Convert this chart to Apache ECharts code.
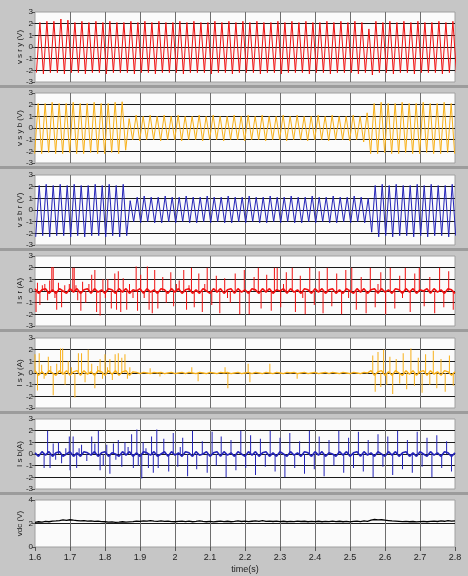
<!DOCTYPE html>
<html>
<head>
<meta charset="utf-8">
<script src="https://cdn.jsdelivr.net/npm/echarts@6/dist/echarts.min.js"></script>
<style>
html, body { margin: 0; padding: 0; background: #c6c6c6; }
#chart { width: 468px; height: 576px; }
</style>
</head>
<body>
<div id="chart"></div>
<script>
// axis names of the seven stacked panels
const panelNames = ['v s r y (V)', 'v s y b (V)', 'v s b r (V)', 'I s r (A)', 'I s y (A)', 'I s b(A)', 'vdc (V)'];
const panelColors = ['#f01010', '#f8b018', '#2424b8', '#f01010', '#f8b018', '#2424b8', '#000000'];

// line voltages: peak / trough of each half cycle (50 Hz -> one extreme every 0.01 s)
const halfStep = 0.01;
const vsryFirstPeak = 1.614;
const vsryPeaks = [
  2.1, 2.2, 2.2, 2.4, 2.3, 2.1, 2.2, 2.1, 2.2, 2.1,
  2.2, 2.1, 2.1, 2.2, 2.1, 2.2, 2.1, 2.2, 2.1, 2.1,
  2.2, 2.1, 2.2, 2.1, 2.1, 2.2, 2.1, 2.2, 2.1, 2.2,
  2.1, 2.2, 2.1, 2.1, 2.2, 2.1, 2.2, 2.1, 2.2, 2.1,
  2.1, 2.2, 2.1, 2.2, 2.1, 2.2, 2.1, 1.55, 2.2, 2.1,
  2.2, 2.1, 2.2, 2.1, 2.2, 2.1, 2.1, 2.2, 2.1, 2.2
];
const vsryTroughs = [
  -2.2, -2.3, -2.2, -2.2, -2.3, -2.2, -2.2, -2.3, -2.2, -2.2,
  -2.3, -2.2, -2.2, -2.2, -2.3, -2.2, -2.2, -2.3, -2.2, -2.2,
  -2.2, -2.3, -2.2, -2.2, -2.2, -2.3, -2.2, -2.2, -2.3, -2.2,
  -2.2, -2.2, -2.3, -2.2, -2.2, -2.3, -2.2, -2.2, -2.2, -2.3,
  -2.2, -2.2, -2.3, -2.2, -2.2, -2.2, -2.3, -2.2, -2.4, -2.2,
  -2.2, -2.3, -2.2, -2.2, -2.3, -2.2, -2.2, -2.2, -2.3, -2.2,
  -2.2
];

const vsybFirstPeak = 1.609;
const vsybPeaks = [
  2.1, 2.1, 2.2, 2.1, 2.1, 2.2, 2.1, 2.1, 2.2, 2.1,
  2.1, 2.2, 2.25, 0.8, 1.1, 1.0, 1.1, 1.0, 1.1, 1.0,
  1.1, 1.0, 1.0, 1.1, 1.0, 1.1, 1.0, 1.0, 1.1, 1.0,
  1.1, 1.0, 1.1, 1.0, 1.0, 1.1, 1.0, 1.1, 1.0, 1.0,
  1.1, 1.0, 1.1, 1.0, 1.0, 1.1, 1.0, 1.3, 2.1, 2.2,
  2.1, 2.1, 2.2, 2.1, 2.1, 2.2, 2.1, 2.1, 2.2, 2.1
];
const vsybTroughs = [
  -2.2, -2.2, -2.1, -2.2, -2.2, -2.1, -2.2, -2.2, -2.1, -2.2,
  -2.2, -2.1, -2.2, -1.9, -1.0, -1.1, -1.0, -1.0, -1.1, -1.0,
  -1.0, -1.1, -1.0, -1.0, -1.1, -1.0, -1.0, -1.1, -1.0, -1.0,
  -1.1, -1.0, -1.0, -1.1, -1.0, -1.0, -1.1, -1.0, -1.0, -1.1,
  -1.0, -1.0, -1.1, -1.0, -1.0, -1.1, -1.0, -1.2, -2.2, -2.2,
  -2.1, -2.2, -2.2, -2.1, -2.2, -2.2, -2.1, -2.2, -2.2, -2.1,
  -2.2
];

const vsbrFirstPeak = 1.612;
const vsbrPeaks = [
  2.1, 2.2, 2.1, 2.2, 2.1, 2.2, 2.1, 2.1, 2.2, 2.1,
  2.2, 2.1, 2.2, 0.8, 1.1, 1.2, 1.1, 1.1, 1.2, 1.1,
  1.1, 1.2, 1.1, 1.1, 1.2, 1.1, 1.1, 1.2, 1.1, 1.1,
  1.2, 1.1, 1.1, 1.2, 1.1, 1.1, 1.2, 1.1, 1.1, 1.2,
  1.1, 1.1, 1.2, 1.1, 1.1, 1.2, 1.1, 1.0, 2.1, 2.2,
  2.1, 2.2, 2.1, 2.1, 2.2, 2.1, 2.2, 2.1, 2.1, 2.2
];
const vsbrTroughs = [
  -2.3, -2.2, -2.3, -2.2, -2.2, -2.3, -2.2, -2.3, -2.2, -2.2,
  -2.3, -2.2, -2.3, -2.2, -1.0, -1.1, -1.0, -1.1, -1.1, -1.0,
  -1.1, -1.0, -1.1, -1.1, -1.0, -1.1, -1.0, -1.1, -1.1, -1.0,
  -1.1, -1.0, -1.1, -1.1, -1.0, -1.1, -1.0, -1.1, -1.1, -1.0,
  -1.1, -1.0, -1.1, -1.1, -1.0, -1.1, -1.0, -1.1, -1.9, -2.3,
  -2.2, -2.3, -2.2, -2.2, -2.3, -2.2, -2.3, -2.2, -2.2, -2.3,
  -2.2
];

// phase currents: baseline ripple every 0.01 s from 1.6, plus spikes [t, A]
const baseStart = 1.6;
const baseStep = 0.01;
const isrBase = [
  0.2, -0.2, 0.1, 0.2, -0.2, 0.1, -0.2, 0.2, 0.0, -0.2,
  0.2, -0.1, 0.2, -0.2, 0.1, 0.2, -0.2, 0.2, -0.1, 0.1,
  -0.2, 0.2, 0.1, -0.2, 0.2, -0.1, 0.2, -0.2, 0.1, 0.0,
  0.2, -0.2, 0.2, -0.1, 0.1, -0.2, 0.2, 0.1, -0.2, 0.2,
  -0.1, 0.2, -0.2, 0.1, 0.2, -0.2, 0.1, -0.2, 0.2, 0.0,
  -0.2, 0.2, -0.1, 0.2, -0.2, 0.1, 0.2, -0.2, 0.2, -0.1,
  0.1, -0.2, 0.2, 0.1, -0.2, 0.2, -0.1, 0.2, -0.2, 0.1,
  0.0, 0.2, -0.2, 0.2, -0.1, 0.1, -0.2, 0.2, 0.1, -0.2,
  0.2, -0.1, 0.2, -0.2, 0.1, 0.2, -0.2, 0.1, -0.2, 0.2,
  0.0, -0.2, 0.2, -0.1, 0.2, -0.2, 0.1, 0.2, -0.2, 0.2,
  -0.1, 0.1, -0.2, 0.2, 0.1, -0.2, 0.2, -0.1, 0.2, -0.2,
  0.1, 0.0, 0.2, -0.2, 0.2, -0.1, 0.1, -0.2, 0.2, 0.1,
  -0.2
];
const isrSpikes = [
  [1.603, -1.8], [1.607, 0.7], [1.614, -1.2], [1.621, 0.5], [1.628, 0.6], [1.636, -0.8], [1.642, 0.9],
  [1.648, 2.05], [1.652, 2.05], [1.657, -0.6], [1.662, -1.6], [1.667, 0.7], [1.676, -1.4], [1.685, 0.5],
  [1.698, 0.6], [1.708, 2.0], [1.712, 2.0], [1.717, 0.5], [1.722, -0.8], [1.731, -1.7], [1.736, 0.8],
  [1.745, -1.0], [1.754, 0.6], [1.762, 1.4], [1.771, 1.8], [1.776, -1.8], [1.786, -2.1], [1.794, 1.0],
  [1.801, -0.6], [1.808, 1.0], [1.818, -1.5], [1.828, 1.5], [1.833, -1.6], [1.838, 1.7], [1.845, -1.8],
  [1.852, 1.1], [1.862, -1.6], [1.870, 0.6], [1.880, -0.6], [1.889, 2.1], [1.893, -1.7], [1.902, 1.4],
  [1.912, -0.6], [1.921, 2.1], [1.926, -1.6], [1.935, -1.9], [1.942, 1.8], [1.951, -1.5], [1.965, 1.2],
  [1.975, -1.0], [1.988, 1.6], [1.996, -1.3], [2.004, 0.6], [2.012, 0.9], [2.025, 1.8], [2.033, -1.6],
  [2.040, 0.5], [2.047, 2.0], [2.055, -1.4], [2.068, 1.5], [2.078, -1.8], [2.085, 0.6], [2.092, 2.0],
  [2.105, -1.2], [2.118, 1.3], [2.128, -1.9], [2.142, 1.1], [2.150, -0.6], [2.158, -1.0], [2.172, 1.5],
  [2.185, -2.0], [2.198, 1.8], [2.212, -2.0], [2.226, 1.2], [2.238, 2.0], [2.246, -1.5], [2.262, 1.4],
  [2.275, -1.7], [2.284, 2.0], [2.292, 2.0], [2.302, -1.4], [2.310, 0.6], [2.318, 1.6], [2.335, 2.0],
  [2.344, -1.8], [2.358, 1.3], [2.365, -0.6], [2.372, -2.0], [2.385, 2.0], [2.398, -1.2], [2.412, 1.7],
  [2.423, -1.9], [2.435, 2.0], [2.448, -1.3], [2.462, 1.5], [2.476, -2.0], [2.488, 1.8], [2.496, -0.6],
  [2.505, 2.0], [2.518, -1.6], [2.532, 1.2], [2.546, -1.9], [2.558, 2.0], [2.572, -1.4], [2.580, 0.6],
  [2.588, 1.6], [2.602, -2.0], [2.615, 2.0], [2.628, -1.5], [2.642, 1.3], [2.650, -0.6], [2.658, 2.0],
  [2.672, -1.8], [2.685, 1.5], [2.698, 2.0], [2.712, -1.3], [2.728, 1.2], [2.742, -1.9], [2.756, 2.0],
  [2.768, -1.4], [2.782, 1.7], [2.795, -1.6]
];

const isyBase = [
  0.2, -0.2, 0.1, -0.2, 0.2, 0.0, -0.2, 0.2, -0.1, 0.2,
  -0.2, 0.1, 0.2, -0.2, 0.2, -0.1, 0.1, -0.2, 0.2, 0.1,
  -0.2, 0.2, -0.1, 0.2, -0.2, 0.1, 0.2, -0.2, 0.1, 0.05,
  -0.05, 0.05, 0.0, -0.05, 0.05, 0.0, 0.05, -0.05, 0.0, 0.05,
  -0.05, 0.0, 0.05, -0.05, 0.05, 0.0, -0.05, 0.05, 0.0, -0.05,
  0.05, 0.0, -0.05, 0.05, 0.0, 0.05, -0.05, 0.0, 0.05, -0.05,
  0.0, 0.05, -0.05, 0.05, 0.0, -0.05, 0.05, 0.0, -0.05, 0.05,
  0.0, -0.05, 0.05, 0.0, 0.05, -0.05, 0.0, 0.05, -0.05, 0.0,
  0.05, -0.05, 0.0, 0.05, -0.05, 0.05, 0.0, -0.05, 0.05, 0.0,
  -0.05, 0.05, 0.0, -0.05, 0.05, 0.0, 0.2, -0.2, 0.1, 0.2,
  -0.2, 0.1, -0.2, 0.2, 0.0, -0.2, 0.2, -0.1, 0.2, -0.2,
  0.1, 0.2, -0.2, 0.2, -0.1, 0.1, -0.2, 0.2, 0.1, -0.2,
  0.1
];
const isySpikes = [
  [1.600, 1.6], [1.607, -1.5], [1.612, 1.7], [1.619, 0.7], [1.626, -0.5], [1.638, 1.4], [1.645, 0.6],
  [1.652, -1.9], [1.662, 0.8], [1.673, 2.1], [1.679, 2.1], [1.686, -1.0], [1.695, 1.0], [1.704, 0.5],
  [1.714, -2.1], [1.724, 1.7], [1.733, 1.7], [1.743, -0.8], [1.752, 2.0], [1.762, 0.8], [1.771, -1.3],
  [1.779, 0.6], [1.786, 1.2], [1.793, -0.5], [1.800, 1.6], [1.807, 0.5], [1.814, 1.2], [1.821, -0.6],
  [1.829, 1.6], [1.838, 1.7], [1.848, 1.3], [1.857, 1.6], [1.864, -0.5], [1.871, 0.5], [1.929, 0.4],
  [1.957, -0.3], [2.048, 0.5], [2.066, -0.7], [2.143, 0.5], [2.151, -1.3], [2.209, 0.8], [2.214, -0.8],
  [2.271, 0.8], [2.349, -0.5], [2.565, 1.5], [2.572, -1.6], [2.580, 1.8], [2.588, -1.2], [2.596, 2.0],
  [2.605, -1.0], [2.614, 1.4], [2.622, -1.8], [2.632, 1.2], [2.642, -0.9], [2.652, 1.7], [2.662, -1.4],
  [2.674, 2.1], [2.684, -1.1], [2.695, 1.3], [2.706, -1.7], [2.716, 1.6], [2.728, -1.0], [2.738, 1.9],
  [2.748, -1.3], [2.760, 1.2], [2.772, -1.6], [2.784, 1.5], [2.795, -1.1]
];

const isbBase = [
  0.1, -0.2, 0.2, -0.1, 0.2, -0.2, 0.1, 0.2, -0.2, 0.0,
  0.2, -0.2, 0.1, -0.2, 0.2, 0.1, -0.1, 0.2, -0.2, 0.1,
  0.2, -0.2, 0.1, 0.0, -0.2, 0.2, -0.1, 0.2, -0.2, 0.1,
  -0.2, 0.2, 0.1, -0.1, 0.2, -0.2, 0.0, 0.2, -0.2, 0.2,
  -0.1, 0.1, -0.2, 0.2, 0.1, -0.2, 0.2, -0.1, 0.0, 0.2,
  -0.2, 0.1, 0.2, -0.2, 0.2, -0.1, 0.1, -0.2, 0.2, 0.0,
  -0.2, 0.2, -0.1, 0.2, -0.2, 0.1, 0.2, -0.2, 0.1, -0.2,
  0.2, 0.0, -0.2, 0.2, -0.1, 0.1, -0.2, 0.2, 0.1, -0.2,
  0.2, -0.1, 0.2, -0.2, 0.1, 0.0, -0.2, 0.2, -0.1, 0.2,
  -0.2, 0.1, 0.2, -0.2, 0.2, -0.1, 0.1, -0.2, 0.2, 0.0,
  -0.2, 0.2, -0.1, 0.2, -0.2, 0.1, 0.2, -0.2, 0.1, -0.2,
  0.2, 0.0, -0.2, 0.2, -0.1, 0.1, -0.2, 0.2, 0.1, -0.2,
  0.1
];
const isbSpikes = [
  [1.626, -1.2], [1.636, 2.0], [1.643, -1.2], [1.652, 0.9], [1.659, -0.5], [1.667, 1.0], [1.676, -0.8],
  [1.688, 0.5], [1.698, 1.5], [1.700, -1.4], [1.709, 1.5], [1.719, -1.2], [1.726, 0.5], [1.733, 0.8],
  [1.748, -0.6], [1.762, 1.5], [1.771, 0.9], [1.781, 2.0], [1.786, -1.4], [1.795, -1.0], [1.805, 0.8],
  [1.814, -1.7], [1.824, 0.9], [1.831, -0.5], [1.838, 1.2], [1.848, -1.1], [1.857, 1.0], [1.866, 0.6],
  [1.876, 1.7], [1.881, -1.2], [1.891, 2.1], [1.895, -1.0], [1.905, -2.1], [1.909, 1.0], [1.917, 0.5],
  [1.924, -1.2], [1.933, 1.5], [1.938, -1.6], [1.948, 2.1], [1.952, -1.2], [1.968, 1.3], [1.982, -1.5],
  [1.995, 1.8], [2.008, -1.1], [2.015, 0.6], [2.022, 1.4], [2.036, -1.9], [2.050, 2.0], [2.062, -1.3],
  [2.078, 1.1], [2.092, -1.6], [2.106, 1.9], [2.118, -1.0], [2.132, 1.5], [2.146, -2.0], [2.160, 1.2],
  [2.174, -1.4], [2.188, 2.0], [2.202, -1.2], [2.216, 1.6], [2.230, -1.8], [2.244, 1.3], [2.258, -1.1],
  [2.272, 2.0], [2.286, -1.5], [2.300, 1.4], [2.314, -2.0], [2.328, 1.8], [2.342, -1.2], [2.356, 1.1],
  [2.370, -1.7], [2.384, 2.0], [2.398, -1.3], [2.412, 1.5], [2.426, -1.9], [2.440, 1.2], [2.454, -1.0],
  [2.468, 2.0], [2.482, -1.6], [2.496, 1.4], [2.510, -1.2], [2.524, 1.9], [2.538, -1.5], [2.552, 1.2],
  [2.566, -2.0], [2.580, 1.7], [2.594, -1.1], [2.608, 1.5], [2.622, -1.8], [2.636, 2.0], [2.650, -1.3],
  [2.664, 1.2], [2.678, -1.6], [2.692, 1.9], [2.706, -1.1], [2.720, 1.4], [2.734, -2.0], [2.748, 1.6],
  [2.762, -1.2], [2.776, 1.1], [2.790, -1.5]
];

// dc link voltage every 0.01 s from 1.6
const vdcValues = [
  2.10, 2.15, 2.12, 2.18, 2.15, 2.20, 2.22, 2.25, 2.30, 2.26,
  2.32, 2.28, 2.25, 2.22, 2.24, 2.20, 2.22, 2.18, 2.20, 2.16,
  2.15, 2.12, 2.14, 2.10, 2.12, 2.15, 2.11, 2.14, 2.16, 2.20,
  2.18, 2.22, 2.20, 2.24, 2.20, 2.18, 2.22, 2.18, 2.20, 2.16,
  2.15, 2.18, 2.20, 2.16, 2.20, 2.15, 2.18, 2.22, 2.18, 2.15,
  2.18, 2.14, 2.17, 2.20, 2.16, 2.19, 2.15, 2.18, 2.22, 2.17,
  2.20, 2.16, 2.19, 2.22, 2.18, 2.24, 2.18, 2.21, 2.17, 2.20,
  2.16, 2.19, 2.15, 2.18, 2.16, 2.20, 2.17, 2.19, 2.15, 2.18,
  2.16, 2.19, 2.15, 2.18, 2.16, 2.20, 2.16, 2.19, 2.15, 2.18,
  2.14, 2.18, 2.20, 2.16, 2.22, 2.18, 2.28, 2.34, 2.30, 2.32,
  2.28, 2.25, 2.22, 2.20, 2.18, 2.16, 2.18, 2.15, 2.17, 2.14,
  2.16, 2.18, 2.15, 2.18, 2.20, 2.17, 2.22, 2.19, 2.24, 2.20,
  2.22
];

// ---- build series data ----
function waveData(firstPeak, peaks, troughs) {
  const out = [];
  for (let i = 0; i < troughs.length; i++) {
    out.push([firstPeak - halfStep + 2 * halfStep * i, troughs[i]]);
    if (i < peaks.length) out.push([firstPeak + 2 * halfStep * i, peaks[i]]);
  }
  return out;
}
function baseData(base) {
  return base.map((v, i) => [baseStart + baseStep * i, v]);
}
const lineData = [
  waveData(vsryFirstPeak, vsryPeaks, vsryTroughs),
  waveData(vsybFirstPeak, vsybPeaks, vsybTroughs),
  waveData(vsbrFirstPeak, vsbrPeaks, vsbrTroughs),
  baseData(isrBase),
  baseData(isyBase),
  baseData(isbBase),
  baseData(vdcValues)
];
const spikeData = [null, null, null, isrSpikes, isySpikes, isbSpikes, null];
const lineWidths = [1, 1, 1, 1.6, 1.4, 1.6, 1.3];

// layout of the stacked panels
const tops = [12, 93, 175, 256, 338, 419, 500];
const heights = [70, 70, 70, 70, 70, 70, 47];

const chart = echarts.init(document.getElementById('chart'));
const grids = [], xAxes = [], yAxes = [], series = [], graphics = [];

for (let i = 0; i < 7; i++) {
  const last = i === 6;
  grids.push({
    left: 35, right: 13, top: tops[i], height: heights[i],
    show: true, backgroundColor: '#fbfbfb', borderColor: '#a0a0a0', borderWidth: 1
  });
  xAxes.push({
    gridIndex: i, type: 'value', min: 1.6, max: 2.8, interval: 0.1,
    axisLine: { show: false },
    axisTick: { show: last, length: 4, lineStyle: { color: '#555' } },
    axisLabel: { show: last, fontSize: 9, color: '#222', margin: 6, fontFamily: 'Liberation Sans' },
    splitLine: { show: true, showMinLine: false, showMaxLine: false, lineStyle: { color: '#6e6e6e', width: 1 } },
    name: last ? 'time(s)' : '', nameLocation: 'middle', nameGap: 18,
    nameTextStyle: { fontSize: 9, color: '#222', fontFamily: 'Liberation Sans' }
  });
  yAxes.push({
    gridIndex: i, type: 'value',
    min: last ? 0 : -3, max: last ? 4 : 3, interval: last ? 2 : 1,
    axisLine: { show: false },
    axisTick: { show: true, length: 3, lineStyle: { color: '#555' } },
    axisLabel: { fontSize: 8, color: '#222', margin: 2, fontFamily: 'Liberation Sans' },
    splitLine: { show: true, showMinLine: false, showMaxLine: false, lineStyle: { color: '#1a1a1a', width: 1 } },
    name: panelNames[i], nameLocation: 'middle', nameGap: 11, nameMoveOverlap: false,
    nameTextStyle: { fontSize: 8, color: '#222', fontFamily: 'Liberation Sans' }
  });
  series.push({
    type: 'line', xAxisIndex: i, yAxisIndex: i,
    data: lineData[i], showSymbol: false, symbol: 'none',
    lineStyle: { width: lineWidths[i], color: panelColors[i] },
    clip: true, animation: false
  });
  if (spikeData[i]) {
    series.push({
      type: 'bar', xAxisIndex: i, yAxisIndex: i,
      data: spikeData[i], barWidth: 1,
      itemStyle: { color: panelColors[i] },
      clip: true, animation: false
    });
  }
  if (!last) {
    graphics.push({
      type: 'rect', shape: { x: 0, y: tops[i] + heights[i] + 3, width: 468, height: 3 },
      style: { fill: '#9c9c9c' }, silent: true
    });
  }
}

chart.setOption({
  backgroundColor: '#c6c6c6',
  animation: false,
  grid: grids,
  xAxis: xAxes,
  yAxis: yAxes,
  series: series,
  graphic: graphics
});
</script>
</body>
</html>
